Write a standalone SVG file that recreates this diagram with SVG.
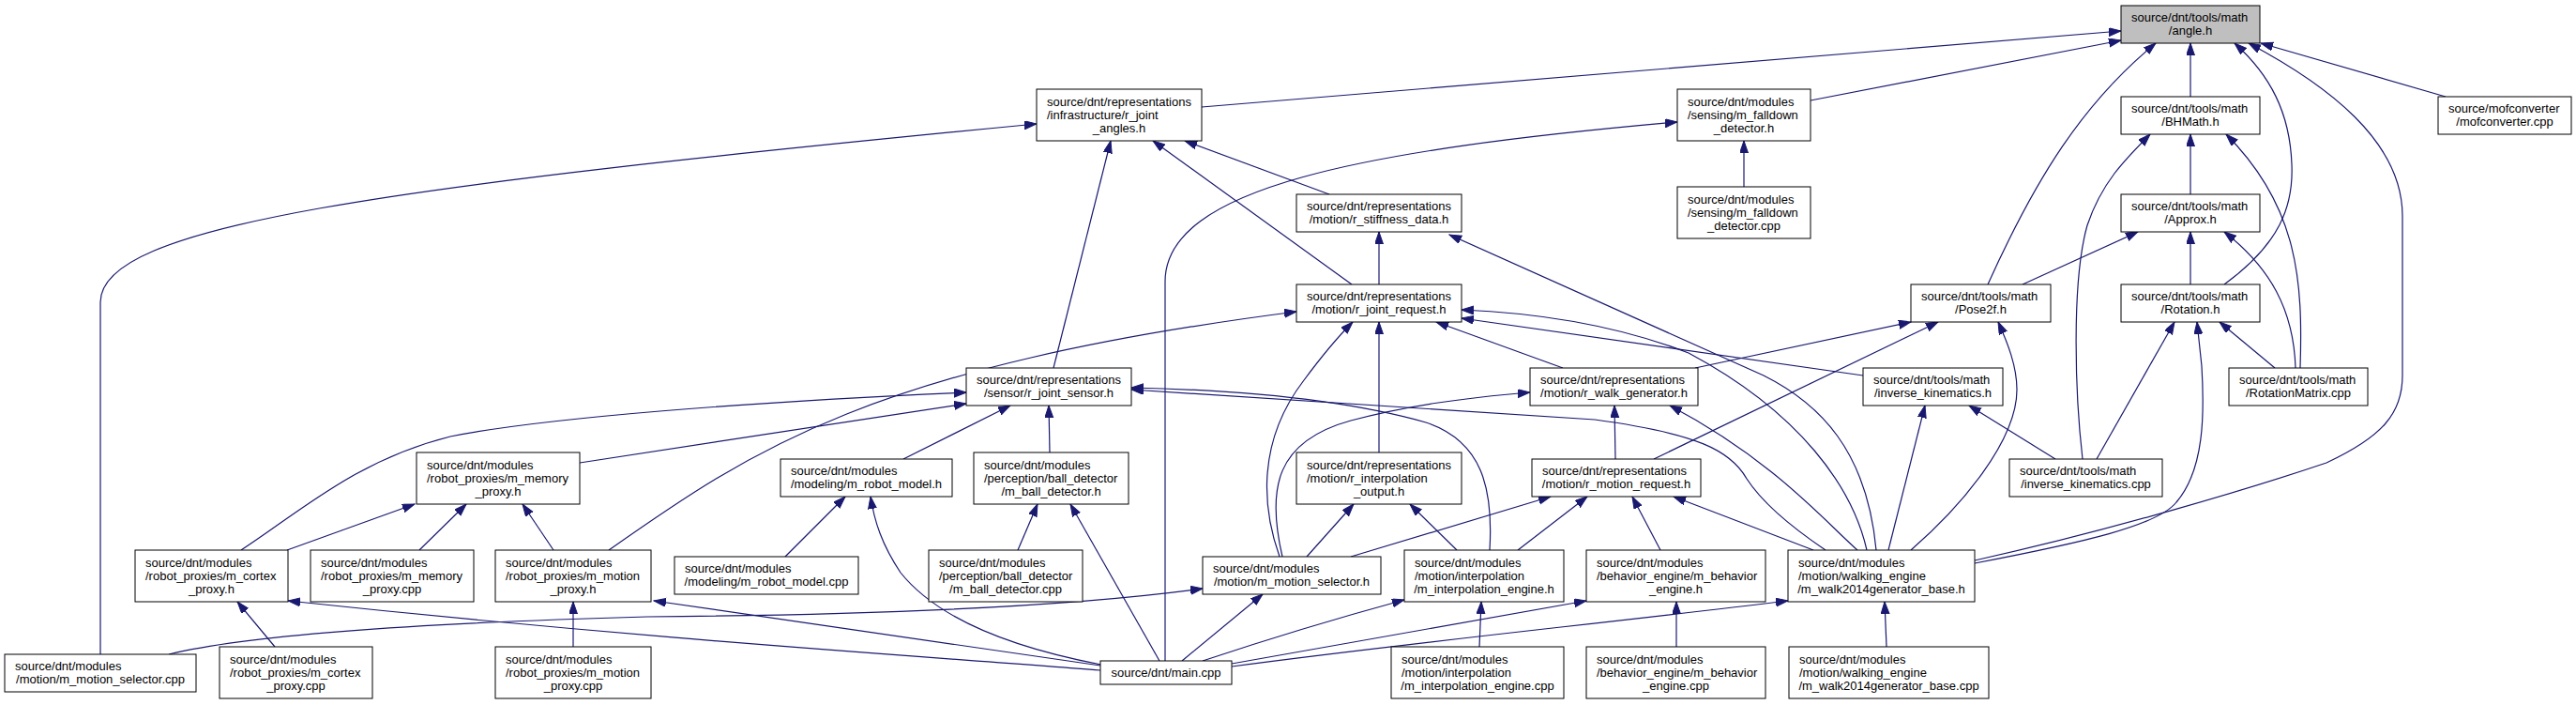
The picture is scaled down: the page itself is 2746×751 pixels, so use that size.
<svg xmlns="http://www.w3.org/2000/svg" width="2746" height="751" viewBox="0 0 2746 751">
<defs>
<marker id="arr" markerUnits="userSpaceOnUse" markerWidth="14" markerHeight="10" refX="13" refY="4.5" orient="auto">
<path d="M0,0 L13,4.5 L0,9 z" fill="#191970" stroke="#191970" stroke-width="1"/>
</marker>
<style>
.n rect{fill:#ffffff;stroke:#000000;stroke-width:1}
.n text{font-family:"Liberation Sans",Arial,Helvetica,sans-serif;font-size:13px;fill:#000000}
.n text.m{text-anchor:middle}
#edges path{fill:none;stroke:#191970;stroke-width:1.2;marker-end:url(#arr)}
</style>
</defs>
<rect x="0" y="0" width="2746" height="751" fill="#ffffff"/>
<g id="edges">
<path d="M1281,114 L2261,33"/>
<path d="M1930,107 L2261,43"/>
<path d="M107,697 L107,322 C107,240 400,200 1105,132"/>
<path d="M1123,392 L1184,150"/>
<path d="M1441,303 L1229,150"/>
<path d="M1417,207 L1263,150"/>
<path d="M1242,704 L1242,300 C1242,200 1450,160 1788,130"/>
<path d="M1859,199 L1859,150"/>
<path d="M1470,303 L1470,247"/>
<path d="M2000,586 C1990,480 1940,430 1880,400 L1545,250"/>
<path d="M1990,586 C1975,520 1920,440 1800,376 C1720,345 1630,333 1558,330"/>
<path d="M1986,400 L1558,339"/>
<path d="M1666,392 L1531,343"/>
<path d="M1470,482 L1470,343"/>
<path d="M1364,593 C1345,540 1340,470 1390,405 C1410,378 1425,360 1442,343"/>
<path d="M649,586 C800,480 930,390 1382,332"/>
<path d="M1980,586 C1945,555 1890,490 1780,432"/>
<path d="M1722,489 L1721,432"/>
<path d="M1367,593 C1350,520 1360,470 1440,448 C1500,432 1560,424 1631,418"/>
<path d="M1933,586 L1784,529"/>
<path d="M1770,586 L1740,529"/>
<path d="M1618,586 L1692,529"/>
<path d="M1440,593 L1653,529"/>
<path d="M1393,593 L1443,537"/>
<path d="M1553,586 L1503,537"/>
<path d="M1588,586 C1592,520 1580,470 1520,450 C1420,422 1300,415 1206,413"/>
<path d="M1946,586 C1900,555 1875,530 1862,510 C1845,480 1810,462 1700,447 L1206,415"/>
<path d="M1807,392 L2037,343"/>
<path d="M1763,489 L2066,343"/>
<path d="M2037,586 C2090,540 2150,470 2150,415 C2150,390 2140,365 2130,343"/>
<path d="M2013,586 L2052,432"/>
<path d="M2191,489 L2099,432"/>
<path d="M2220,489 C2212,420 2208,300 2225,240 C2240,195 2265,170 2292,143"/>
<path d="M2235,489 L2318,343"/>
<path d="M2105,600 C2220,578 2300,560 2320,535 C2350,500 2350,440 2347,390 L2342,343"/>
<path d="M2105,597 C2250,565 2400,520 2480,493 C2540,465 2561,440 2561,400 L2561,230 C2561,150 2480,90 2397,46"/>
<path d="M2607,103 L2410,46"/>
<path d="M2371,303 C2430,260 2445,220 2443,175 C2441,120 2420,80 2382,46"/>
<path d="M2119,303 C2170,190 2220,110 2298,46"/>
<path d="M2335,103 L2335,46"/>
<path d="M2335,207 L2335,143"/>
<path d="M2335,303 L2335,247"/>
<path d="M2156,303 L2279,247"/>
<path d="M2425,392 L2366,343"/>
<path d="M2447,392 C2445,330 2420,285 2371,247"/>
<path d="M2452,392 C2455,300 2450,220 2373,143"/>
<path d="M257,586 C320,545 380,490 480,465 C580,445 800,428 1030,418"/>
<path d="M618,493 L1030,430"/>
<path d="M963,489 L1077,432"/>
<path d="M1119,482 L1118,432"/>
<path d="M837,593 L901,529"/>
<path d="M1174,708 C1080,690 1000,660 960,610 C940,580 932,555 928,529"/>
<path d="M1085,586 L1106,537"/>
<path d="M1236,704 L1141,537"/>
<path d="M1260,704 L1346,633"/>
<path d="M1282,704 C1330,688 1420,660 1497,639"/>
<path d="M1313,707 L1691,640"/>
<path d="M1313,710 C1500,685 1700,665 1906,640"/>
<path d="M1173,709 L697,640"/>
<path d="M1173,714 C1000,700 700,682 307,640"/>
<path d="M180,697 C250,680 400,665 690,657 C950,655 1150,645 1282,627"/>
<path d="M306,586 L442,537"/>
<path d="M447,586 L497,537"/>
<path d="M590,586 L557,537"/>
<path d="M293,689 L253,641"/>
<path d="M611,689 L611,641"/>
<path d="M1577,689 L1579,641"/>
<path d="M1787,689 L1787,641"/>
<path d="M2011,689 L2009,641"/>
</g>
<g id="n_angle" class="n"><rect x="2261" y="6" width="148" height="40" style="fill:#bfbfbf"/><text x="2272" y="23">source/dnt/tools/math</text><text class="m" x="2335" y="37">/angle.h</text></g>
<g id="n_r_joint_angles" class="n"><rect x="1105" y="95" width="176" height="55"/><text x="1116" y="112.5">source/dnt/representations</text><text x="1116" y="126.5">/infrastructure/r_joint</text><text class="m" x="1193" y="140.5">_angles.h</text></g>
<g id="n_falldown_h" class="n"><rect x="1788" y="95" width="142" height="55"/><text x="1799" y="112.5">source/dnt/modules</text><text x="1799" y="126.5">/sensing/m_falldown</text><text class="m" x="1859" y="140.5">_detector.h</text></g>
<g id="n_bhmath" class="n"><rect x="2261" y="103" width="148" height="40"/><text x="2272" y="120">source/dnt/tools/math</text><text class="m" x="2335" y="134">/BHMath.h</text></g>
<g id="n_mofconverter" class="n"><rect x="2599" y="103" width="142" height="40"/><text x="2610" y="120">source/mofconverter</text><text class="m" x="2670" y="134">/mofconverter.cpp</text></g>
<g id="n_falldown_cpp" class="n"><rect x="1788" y="199" width="142" height="55"/><text x="1799" y="216.5">source/dnt/modules</text><text x="1799" y="230.5">/sensing/m_falldown</text><text class="m" x="1859" y="244.5">_detector.cpp</text></g>
<g id="n_r_stiffness" class="n"><rect x="1382" y="207" width="176" height="40"/><text x="1393" y="224">source/dnt/representations</text><text class="m" x="1470" y="238">/motion/r_stiffness_data.h</text></g>
<g id="n_approx" class="n"><rect x="2261" y="207" width="148" height="40"/><text x="2272" y="224">source/dnt/tools/math</text><text class="m" x="2335" y="238">/Approx.h</text></g>
<g id="n_r_joint_request" class="n"><rect x="1382" y="303" width="176" height="40"/><text x="1393" y="320">source/dnt/representations</text><text class="m" x="1470" y="334">/motion/r_joint_request.h</text></g>
<g id="n_pose2f" class="n"><rect x="2037" y="303" width="149" height="40"/><text x="2048" y="320">source/dnt/tools/math</text><text class="m" x="2111.5" y="334">/Pose2f.h</text></g>
<g id="n_rotation" class="n"><rect x="2261" y="303" width="148" height="40"/><text x="2272" y="320">source/dnt/tools/math</text><text class="m" x="2335" y="334">/Rotation.h</text></g>
<g id="n_r_joint_sensor" class="n"><rect x="1030" y="392" width="176" height="40"/><text x="1041" y="409">source/dnt/representations</text><text class="m" x="1118" y="423">/sensor/r_joint_sensor.h</text></g>
<g id="n_r_walk_generator" class="n"><rect x="1631" y="392" width="179" height="40"/><text x="1642" y="409">source/dnt/representations</text><text class="m" x="1720.5" y="423">/motion/r_walk_generator.h</text></g>
<g id="n_inverse_kinematics_h" class="n"><rect x="1986" y="392" width="149" height="40"/><text x="1997" y="409">source/dnt/tools/math</text><text class="m" x="2060.5" y="423">/inverse_kinematics.h</text></g>
<g id="n_rotationmatrix" class="n"><rect x="2376" y="392" width="148" height="40"/><text x="2387" y="409">source/dnt/tools/math</text><text class="m" x="2450" y="423">/RotationMatrix.cpp</text></g>
<g id="n_memory_proxy_h" class="n"><rect x="444" y="482" width="174" height="55"/><text x="455" y="499.5">source/dnt/modules</text><text x="455" y="513.5">/robot_proxies/m_memory</text><text class="m" x="531" y="527.5">_proxy.h</text></g>
<g id="n_robot_model_h" class="n"><rect x="832" y="489" width="183" height="40"/><text x="843" y="506">source/dnt/modules</text><text class="m" x="923.5" y="520">/modeling/m_robot_model.h</text></g>
<g id="n_ball_detector_h" class="n"><rect x="1038" y="482" width="165" height="55"/><text x="1049" y="499.5">source/dnt/modules</text><text x="1049" y="513.5">/perception/ball_detector</text><text class="m" x="1120.5" y="527.5">/m_ball_detector.h</text></g>
<g id="n_r_interpolation_output" class="n"><rect x="1382" y="482" width="176" height="55"/><text x="1393" y="499.5">source/dnt/representations</text><text x="1393" y="513.5">/motion/r_interpolation</text><text class="m" x="1470" y="527.5">_output.h</text></g>
<g id="n_r_motion_request" class="n"><rect x="1633" y="489" width="180" height="40"/><text x="1644" y="506">source/dnt/representations</text><text class="m" x="1723" y="520">/motion/r_motion_request.h</text></g>
<g id="n_inverse_kinematics_cpp" class="n"><rect x="2142" y="489" width="163" height="40"/><text x="2153" y="506">source/dnt/tools/math</text><text class="m" x="2223.5" y="520">/inverse_kinematics.cpp</text></g>
<g id="n_cortex_proxy_h" class="n"><rect x="144" y="586" width="163" height="55"/><text x="155" y="603.5">source/dnt/modules</text><text x="155" y="617.5">/robot_proxies/m_cortex</text><text class="m" x="225.5" y="631.5">_proxy.h</text></g>
<g id="n_memory_proxy_cpp" class="n"><rect x="331" y="586" width="174" height="55"/><text x="342" y="603.5">source/dnt/modules</text><text x="342" y="617.5">/robot_proxies/m_memory</text><text class="m" x="418" y="631.5">_proxy.cpp</text></g>
<g id="n_motion_proxy_h" class="n"><rect x="528" y="586" width="166" height="55"/><text x="539" y="603.5">source/dnt/modules</text><text x="539" y="617.5">/robot_proxies/m_motion</text><text class="m" x="611" y="631.5">_proxy.h</text></g>
<g id="n_robot_model_cpp" class="n"><rect x="719" y="593" width="196" height="40"/><text x="730" y="610">source/dnt/modules</text><text class="m" x="817" y="624">/modeling/m_robot_model.cpp</text></g>
<g id="n_ball_detector_cpp" class="n"><rect x="990" y="586" width="164" height="55"/><text x="1001" y="603.5">source/dnt/modules</text><text x="1001" y="617.5">/perception/ball_detector</text><text class="m" x="1072" y="631.5">/m_ball_detector.cpp</text></g>
<g id="n_motion_selector_h" class="n"><rect x="1282" y="593" width="190" height="40"/><text x="1293" y="610">source/dnt/modules</text><text class="m" x="1377" y="624">/motion/m_motion_selector.h</text></g>
<g id="n_interpolation_engine_h" class="n"><rect x="1497" y="586" width="170" height="55"/><text x="1508" y="603.5">source/dnt/modules</text><text x="1508" y="617.5">/motion/interpolation</text><text class="m" x="1582" y="631.5">/m_interpolation_engine.h</text></g>
<g id="n_behavior_engine_h" class="n"><rect x="1691" y="586" width="191" height="55"/><text x="1702" y="603.5">source/dnt/modules</text><text x="1702" y="617.5">/behavior_engine/m_behavior</text><text class="m" x="1786.5" y="631.5">_engine.h</text></g>
<g id="n_walk2014_h" class="n"><rect x="1906" y="586" width="199" height="55"/><text x="1917" y="603.5">source/dnt/modules</text><text x="1917" y="617.5">/motion/walking_engine</text><text class="m" x="2005.5" y="631.5">/m_walk2014generator_base.h</text></g>
<g id="n_motion_selector_cpp" class="n"><rect x="5" y="697" width="204" height="40"/><text x="16" y="714">source/dnt/modules</text><text class="m" x="107" y="728">/motion/m_motion_selector.cpp</text></g>
<g id="n_cortex_proxy_cpp" class="n"><rect x="234" y="689" width="163" height="55"/><text x="245" y="706.5">source/dnt/modules</text><text x="245" y="720.5">/robot_proxies/m_cortex</text><text class="m" x="315.5" y="734.5">_proxy.cpp</text></g>
<g id="n_motion_proxy_cpp" class="n"><rect x="528" y="689" width="166" height="55"/><text x="539" y="706.5">source/dnt/modules</text><text x="539" y="720.5">/robot_proxies/m_motion</text><text class="m" x="611" y="734.5">_proxy.cpp</text></g>
<g id="n_main" class="n"><rect x="1173" y="704" width="140" height="25"/><text class="m" x="1243" y="720.5">source/dnt/main.cpp</text></g>
<g id="n_interpolation_engine_cpp" class="n"><rect x="1483" y="689" width="184" height="55"/><text x="1494" y="706.5">source/dnt/modules</text><text x="1494" y="720.5">/motion/interpolation</text><text class="m" x="1575" y="734.5">/m_interpolation_engine.cpp</text></g>
<g id="n_behavior_engine_cpp" class="n"><rect x="1691" y="689" width="191" height="55"/><text x="1702" y="706.5">source/dnt/modules</text><text x="1702" y="720.5">/behavior_engine/m_behavior</text><text class="m" x="1786.5" y="734.5">_engine.cpp</text></g>
<g id="n_walk2014_cpp" class="n"><rect x="1907" y="689" width="213" height="55"/><text x="1918" y="706.5">source/dnt/modules</text><text x="1918" y="720.5">/motion/walking_engine</text><text class="m" x="2013.5" y="734.5">/m_walk2014generator_base.cpp</text></g>
</svg>
